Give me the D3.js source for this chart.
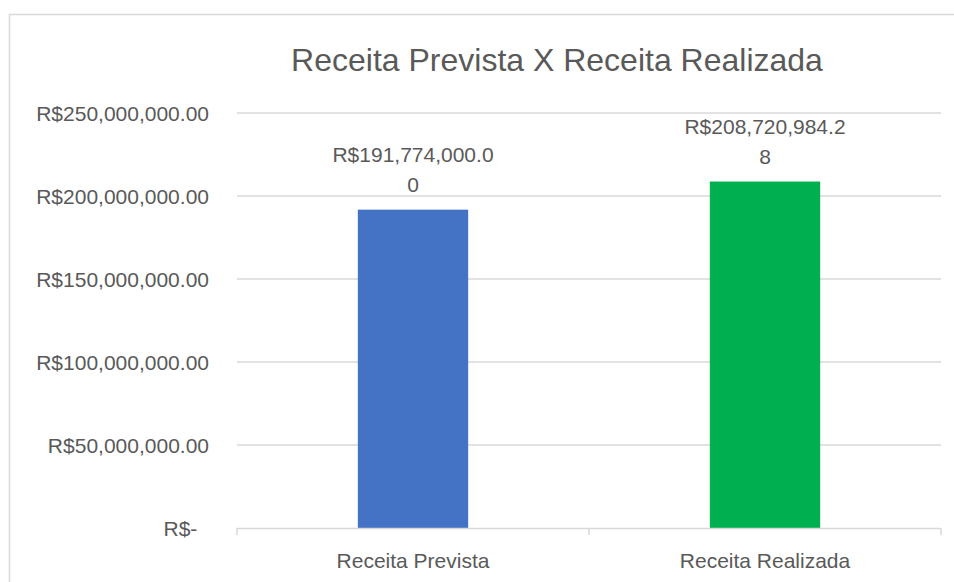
<!DOCTYPE html>
<html>
<head>
<meta charset="utf-8">
<script src="https://cdn.jsdelivr.net/npm/d3@7"></script>
<style>
  body { margin: 0; background: #fff; }
  text { font-family: "Liberation Sans", Arial, sans-serif; fill: #595959; }
</style>
</head>
<body>
<svg id="svg"></svg>
<script>
// chart data
const categories = ["Receita Prevista", "Receita Realizada"];
const values = [191774000.00, 208720984.28];
const barColors = ["#4472c4", "#00b050"];
const yTicks = [0, 50000000, 100000000, 150000000, 200000000, 250000000];
const yTickLabels = ["R$-\u00a0\u00a0", "R$50,000,000.00", "R$100,000,000.00", "R$150,000,000.00", "R$200,000,000.00", "R$250,000,000.00"];
const dataLabels = [["R$191,774,000.0", "0"], ["R$208,720,984.2", "8"]];
const title = "Receita Prevista X Receita Realizada";

const width = 954;
const height = 582;

const svg = d3.select("#svg")
  .attr("width", width)
  .attr("height", height);

// chart area border
svg.append("rect")
  .attr("x", 9.5)
  .attr("y", 14.5)
  .attr("width", 960)
  .attr("height", 600)
  .attr("fill", "none")
  .attr("stroke", "#d9d9d9")
  .attr("stroke-width", 1.5);

const x = d3.scaleBand()
  .domain(categories)
  .range([237, 941])
  .padding(0);

const y = d3.scaleLinear()
  .domain([0, 250000000])
  .range([528, 113]);

// gap width 219% like the spreadsheet
const barWidth = x.bandwidth() / 3.19;

// gridlines
svg.append("g")
  .selectAll("line")
  .data(yTicks.filter(d => d > 0))
  .enter()
  .append("line")
  .attr("x1", 237)
  .attr("x2", 941)
  .attr("y1", d => y(d))
  .attr("y2", d => y(d))
  .attr("stroke", "#d9d9d9")
  .attr("stroke-width", 1.5);

// y labels
svg.append("g")
  .selectAll("text")
  .data(yTicks)
  .enter()
  .append("text")
  .attr("x", 209)
  .attr("y", d => y(d))
  .attr("dy", "0.36em")
  .attr("text-anchor", "end")
  .attr("font-size", 21)
  .style("white-space", "pre")
  .text((d, i) => yTickLabels[i]);

// bars
svg.append("g")
  .selectAll("rect")
  .data(values)
  .enter()
  .append("rect")
  .attr("x", (d, i) => x(categories[i]) + x.bandwidth() / 2 - barWidth / 2)
  .attr("y", d => y(d))
  .attr("width", barWidth)
  .attr("height", d => y(0) - y(d))
  .attr("fill", (d, i) => barColors[i]);

// x axis line and ticks
const xAxis = svg.append("g");
xAxis.append("line")
  .attr("x1", 237)
  .attr("x2", 941)
  .attr("y1", y(0) + 0.5)
  .attr("y2", y(0) + 0.5)
  .attr("stroke", "#d9d9d9")
  .attr("stroke-width", 1.5);

const tickXs = categories.map(c => x(c)).concat([x.range()[1]]);
xAxis.selectAll(".tick")
  .data(tickXs)
  .enter()
  .append("line")
  .attr("x1", d => d)
  .attr("x2", d => d)
  .attr("y1", y(0))
  .attr("y2", y(0) + 7)
  .attr("stroke", "#d9d9d9")
  .attr("stroke-width", 1.5);

xAxis.selectAll("text")
  .data(categories)
  .enter()
  .append("text")
  .attr("x", d => x(d) + x.bandwidth() / 2)
  .attr("y", 568)
  .attr("text-anchor", "middle")
  .attr("font-size", 21)
  .text(d => d);

// data labels (wrapped in two lines)
values.forEach((v, i) => {
  const t = svg.append("text")
    .attr("text-anchor", "middle")
    .attr("font-size", 21);
  const cx = x(categories[i]) + x.bandwidth() / 2;
  t.append("tspan")
    .attr("x", cx)
    .attr("y", y(v) - 48)
    .text(dataLabels[i][0]);
  t.append("tspan")
    .attr("x", cx)
    .attr("y", y(v) - 18)
    .text(dataLabels[i][1]);
});

// title
svg.append("text")
  .attr("x", 557)
  .attr("y", 71)
  .attr("text-anchor", "middle")
  .attr("font-size", 32)
  .text(title);
</script>
</body>
</html>
